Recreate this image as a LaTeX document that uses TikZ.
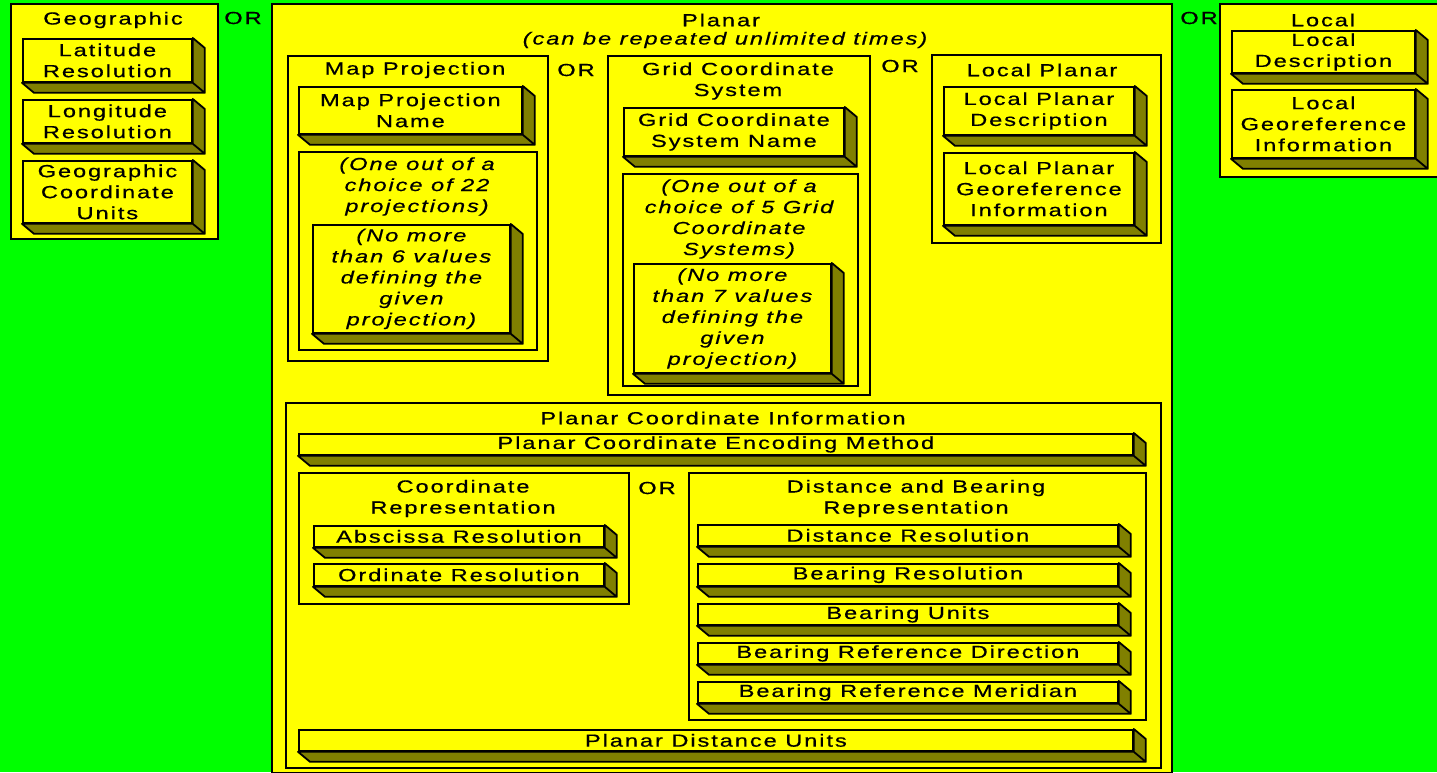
\documentclass[tikz,border=0pt]{standalone}
\usepackage{fontspec}
\setmainfont{Liberation Sans}[FakeStretch=1.35, LetterSpace=11, FakeBold=0.6]
\definecolor{bggreen}{HTML}{00FF00}
\definecolor{boxyellow}{HTML}{FFFF00}
\definecolor{slabside}{HTML}{808000}
\tikzset{
  frame/.style={draw=black, fill=boxyellow, line width=1.8pt, anchor=north west,
    inner sep=0pt, font=\fontsize{17.5}{21}\selectfont, align=center},
  slab/.style={frame, append after command={\pgfextra{
    \filldraw[fill=slabside, draw=black, line width=1.8pt, line join=round]
      (\tikzlastnode.north east) -- ([shift={(12,10)}]\tikzlastnode.north east)
      -- ([shift={(12,10)}]\tikzlastnode.south east) -- (\tikzlastnode.south east) -- cycle
      (\tikzlastnode.south west) -- (\tikzlastnode.south east)
      -- ([shift={(12,10)}]\tikzlastnode.south east) -- ([shift={(12,10)}]\tikzlastnode.south west) -- cycle;
  }}},
  islab/.style={slab, font=\fontsize{17.5}{21}\selectfont\itshape},
  txt/.style={inner sep=0pt, align=center, font=\fontsize{17.5}{21}\selectfont},
  itxt/.style={txt, font=\fontsize{17.5}{21}\selectfont\itshape},
}
\begin{document}
\begin{tikzpicture}[x=1pt, y=-1pt]
  \fill[bggreen] (0,0) rectangle (1437,772);
  \useasboundingbox (0,0) rectangle (1437,772);
  \clip (0,0) rectangle (1437,772);

  % Geographic
  \node[frame, minimum width=207, minimum height=235] (geo) at (10,3) {};
  \node[txt] (geoT) at (113,20) {Geographic};
  \node[slab, minimum width=169, minimum height=43] (lat) at (22,38) {Latitude\\Resolution};
  \node[slab, minimum width=169, minimum height=43] (lon) at (22,99) {Longitude\\Resolution};
  \node[slab, minimum width=169, minimum height=62] (gcu) at (22,160) {Geographic\\Coordinate\\Units};

  \node[txt] (or1) at (243,18) {OR};

  % Planar
  \node[frame, minimum width=900, minimum height=769] (planar) at (271,3) {};
  \node[txt] (planarT) at (721,20) {Planar};
  \node[itxt] (planarS) at (725,40) {(can be repeated unlimited times)};

  % Map projection
  \node[frame, minimum width=260, minimum height=305] (mp) at (287,55) {};
  \node[txt] (mpT) at (415,70) {Map Projection};
  \node[slab, minimum width=223, minimum height=47] (mpname) at (298,86) {Map Projection\\Name};
  \node[frame, minimum width=238, minimum height=198] (mpchoice) at (298,151) {};
  \node[itxt] (mpchoiceT) at (417,186.5) {(One out of a\\choice of 22\\projections)};
  \node[islab, minimum width=197, minimum height=108] (mpparams) at (312,224)
    {(No more\\than 6 values\\defining the\\given\\projection)};

  \node[txt] (or3) at (576,70) {OR};

  % Grid coordinate system
  \node[frame, minimum width=262, minimum height=339] (grid) at (607,55) {};
  \node[txt] (gridT) at (738,81) {Grid Coordinate\\System};
  \node[slab, minimum width=220, minimum height=48] (gridname) at (623,107) {Grid Coordinate\\System Name};
  \node[frame, minimum width=235, minimum height=212] (gridchoice) at (622,173) {};
  \node[itxt] (gridchoiceT) at (739,219) {(One out of a\\choice of 5 Grid\\Coordinate\\Systems)};
  \node[islab, minimum width=197, minimum height=109] (gridparams) at (633,263)
    {(No more\\than 7 values\\defining the\\given\\projection)};

  \node[txt] (or4) at (900,66) {OR};

  % Local planar
  \node[frame, minimum width=229, minimum height=188] (lp) at (931,54) {};
  \node[txt] (lpT) at (1042,70) {Local Planar};
  \node[slab, minimum width=190, minimum height=48] (lpdesc) at (943,86) {Local Planar\\Description};
  \node[slab, minimum width=190, minimum height=72] (lpgeo) at (943,152) {Local Planar\\Georeference\\Information};

  % Planar coordinate information
  \node[frame, minimum width=875, minimum height=365] (pci) at (285,402) {};
  \node[txt] (pciT) at (723,418) {Planar Coordinate Information};
  \node[slab, minimum width=834, minimum height=21] (pcem) at (298,433) {Planar Coordinate Encoding Method};

  \node[frame, minimum width=330, minimum height=131] (cr) at (298,472) {};
  \node[txt] (crT) at (463,498.5) {Coordinate\\Representation};
  \node[slab, minimum width=290, minimum height=21] (absres) at (313,525) {Abscissa Resolution};
  \node[slab, minimum width=290, minimum height=22] (ordres) at (313,563) {Ordinate Resolution};

  \node[txt] (or5) at (657,488) {OR};

  \node[frame, minimum width=457, minimum height=247] (db) at (688,472) {};
  \node[txt] (dbT) at (916,498.5) {Distance and Bearing\\Representation};
  \node[slab, minimum width=420, minimum height=21] (distres) at (697,524) {Distance Resolution};
  \node[slab, minimum width=420, minimum height=22] (bearres) at (697,563) {Bearing Resolution};
  \node[slab, minimum width=420, minimum height=21] (bearunits) at (697,603) {Bearing Units};
  \node[slab, minimum width=420, minimum height=21] (bearrefdir) at (697,642) {Bearing Reference Direction};
  \node[slab, minimum width=420, minimum height=21] (bearrefmer) at (697,681) {Bearing Reference Meridian};

  \node[slab, minimum width=834, minimum height=21] (pdu) at (298,729) {Planar Distance Units};

  \node[txt] (or2) at (1199,18) {OR};

  % Local
  \node[frame, minimum width=230, minimum height=173] (local) at (1219,3) {};
  \node[txt] (localT) at (1323,20) {Local};
  \node[slab, minimum width=183, minimum height=42] (locdesc) at (1231,30) {Local\\Description};
  \node[slab, minimum width=183, minimum height=68] (locgeo) at (1231,89) {Local\\Georeference\\Information};
\end{tikzpicture}
\end{document}
